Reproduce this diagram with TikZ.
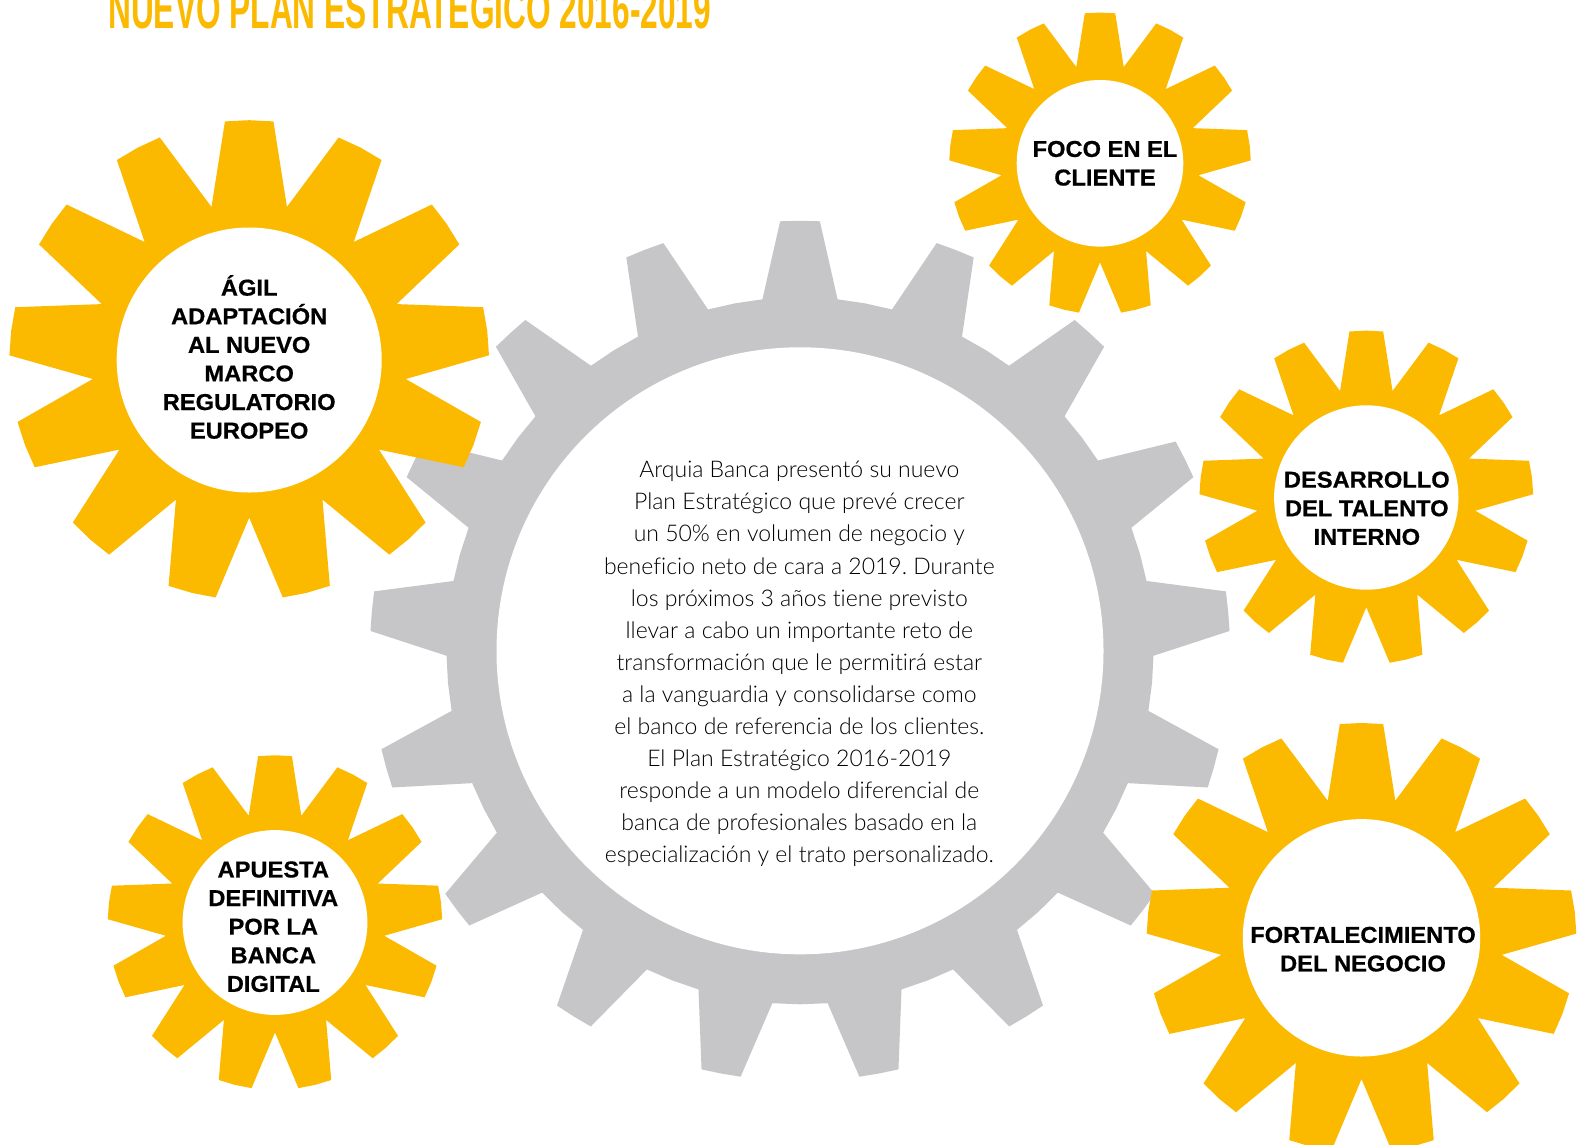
\documentclass[tikz,border=0pt]{standalone}
\usepackage{fontspec}
\setmainfont{Liberation Sans}
\newfontfamily\planbodyfont{Lato Light}[Ligatures=NoCommon]
\newfontfamily\gearlabelfont{Liberation Sans}[FakeStretch=1.03,FakeBold=0.6]
\newfontfamily\plantitlefont{Liberation Sans}
\definecolor{gearyellow}{HTML}{FBBA00}
\definecolor{geargray}{HTML}{C6C6C8}
\tikzset{
  yellowgear/.style={fill=gearyellow},
  graygear/.style={fill=geargray},
  hole/.style={fill=white},
  gearlabel/.style={font=\gearlabelfont\bfseries\fontsize{23}{28.6}\selectfont,
    align=center, inner sep=0pt, text=black},
  bodytext/.style={font=\planbodyfont\frenchspacing\fontsize{23}{32.07}\selectfont,
    align=center, inner sep=0pt, text=black},
  titletext/.style={font=\plantitlefont\bfseries\fontsize{56}{60}\selectfont,
    inner sep=0pt, text=gearyellow, anchor=base west},
}
% #1 style, #2 cx, #3 cy, #4 teeth, #5 root r, #6 tip r, #7 base half angle, #8 tip half angle
\newcommand\drawgear[8]{%
  \pgfmathsetmacro\gpitch{360/#4}%
  \pgfmathtruncatemacro\glast{#4-1}%
  \pgfmathsetmacro\groot{#5}%
  \pgfmathsetmacro\gtip{#6}%
  \begin{scope}[shift={(#2,#3)}]
    \fill[#1] ({-90-#7}:\groot)
      \foreach \k in {0,...,\glast}{
        -- ({-90+\k*\gpitch-#7}:\groot)
        -- ({-90+\k*\gpitch-#8}:\gtip)
        -- ({-90+\k*\gpitch}:\gtip)
        -- ({-90+\k*\gpitch+#8}:\gtip)
        -- ({-90+\k*\gpitch+#7}:\groot)
        -- ({-90+(\k+0.5)*\gpitch}:\groot)
      } -- cycle;
  \end{scope}}
\newcommand\yellowgear[3]{%
  \drawgear{yellowgear}{#1}{#2}{13}{1.19*#3}{1.81*#3}{13.846}{5.8}%
  \fill[hole] (#1,#2) circle[radius=#3];}
\begin{document}
\begin{tikzpicture}[x=1pt,y=-1pt]
\fill[white] (0,0) rectangle (1584,1144);
\useasboundingbox (0,0) rectangle (1584,1144);
% central gray gear
\drawgear{graygear}{800}{650.8}{17}{353.5}{430}{6.1}{2.65}
\fill[hole] (800,650.8) circle[radius=303.5];
% yellow gears
\yellowgear{249.2}{360}{132.5}
\yellowgear{1100}{163.3}{83.3}
\yellowgear{1366.3}{497.5}{92.2}
\yellowgear{275}{922.5}{92.4}
\yellowgear{1361.5}{937.8}{118.7}
% title
\node[titletext] (title) at (108,28) {\resizebox{603pt}{\height}{NUEVO PLAN ESTRATEGICO 2016-2019}};
% labels
\node[gearlabel] (agil) at (249.2,359.2) {\smash{Á}GIL\\ADAPTACIÓN\\AL NUEVO\\MARCO\\REGULATORIO\\EUROPEO};
\node[gearlabel] (foco) at (1105,163.3) {FOCO EN EL\\CLIENTE};
\node[gearlabel] (talento) at (1366.8,508.3) {DESARROLLO\\DEL TALENTO\\INTERNO};
\node[gearlabel] (digital) at (273.3,926.7) {APUESTA\\DEFINITIVA\\POR LA\\BANCA\\DIGITAL};
\node[gearlabel] (negocio) at (1363,949.2) {FORTALECIMIENTO\\DEL NEGOCIO};
\node[bodytext] (plan) at (799.3,664) {Arquia Banca presentó su nuevo\\
Plan Estratégico que prevé crecer\\
un 50\% en volumen de negocio y\\
beneficio neto de cara a 2019. Durante\\
los próximos 3 años tiene previsto\\
llevar a cabo un importante reto de\\
transformación que le permitirá estar\\
a la vanguardia y consolidarse como\\
el banco de referencia de los clientes.\\
El Plan Estratégico 2016-2019\\
responde a un modelo diferencial de\\
banca de profesionales basado en la\\
especialización y el trato personalizado.};
\end{tikzpicture}
\end{document}
